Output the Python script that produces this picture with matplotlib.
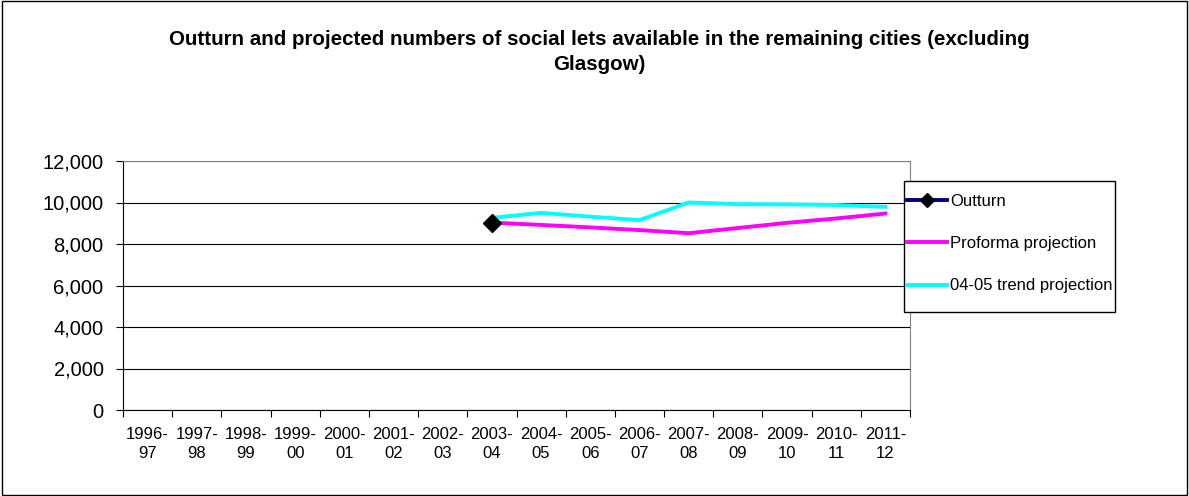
import matplotlib
matplotlib.use('Agg')
import matplotlib.pyplot as plt
from matplotlib.patches import Rectangle
import numpy as np

plt.rcParams['font.family'] = ['Liberation Sans', 'DejaVu Sans']

years = ['1996-\n97', '1997-\n98', '1998-\n99', '1999-\n00', '2000-\n01', '2001-\n02',
         '2002-\n03', '2003-\n04', '2004-\n05', '2005-\n06', '2006-\n07', '2007-\n08',
         '2008-\n09', '2009-\n10', '2010-\n11', '2011-\n12']
nan = np.nan
outturn = [nan, nan, nan, nan, nan, nan, nan, 9030, nan, nan, nan, nan, nan, nan, nan, nan]
proforma = [nan, nan, nan, nan, nan, nan, nan, 9030, 8920, 8800, 8670, 8520, 8770, 9020, 9230, 9470]
trend = [nan, nan, nan, nan, nan, nan, nan, 9260, 9500, 9320, 9150, 10000, 9920, 9910, 9880, 9790]

fig = plt.figure(figsize=(11.89, 4.96), dpi=100)
fig.patches.append(Rectangle((0.0015, 0.002), 0.997, 0.996, transform=fig.transFigure,
                             fill=False, edgecolor='black', linewidth=1))
ax = fig.add_axes([123 / 1189, 1 - 410 / 496, 787 / 1189, 249 / 496])

x = np.arange(len(years))
ax.plot(x, proforma, color='#ff00ff', linewidth=2.8, label='Proforma projection', zorder=3)
ax.plot(x, trend, color='#00ffff', linewidth=2.8, label='04-05 trend projection', zorder=3)
ax.plot(x, outturn, color='#000080', linewidth=2.8, marker='D', markersize=9,
        markerfacecolor='black', markeredgecolor='black', label='Outturn', zorder=4)

ax.set_xlim(-0.5, len(years) - 0.5)
ax.set_ylim(0, 12000)
ax.set_yticks(range(0, 12001, 2000))
ax.set_yticklabels([f'{v:,}' for v in range(0, 12001, 2000)], fontsize=14.5)
ax.yaxis.grid(True, color='black', linewidth=0.8)
ax.set_axisbelow(True)

ax.set_xticks(np.arange(-0.5, len(years), 1))
ax.set_xticklabels([])
ax.set_xticks(x, minor=True)
ax.set_xticklabels(years, minor=True, fontsize=12, linespacing=1.4)
ax.tick_params(axis='x', which='minor', length=0, pad=12)
ax.tick_params(axis='x', which='major', length=5, direction='out', color='black')
ax.tick_params(axis='y', length=5, direction='out', color='black', pad=9)

for s in ['top', 'right']:
    ax.spines[s].set_color('#808080')
ax.spines['left'].set_color('black')
ax.spines['bottom'].set_color('black')

fig.text(0.504, 0.939, 'Outturn and projected numbers of social lets available in the remaining cities (excluding\nGlasgow)',
         ha='center', va='top', fontsize=14.8, fontweight='bold', linespacing=1.35)

# legend box drawn by hand so the text can run up to the border like the original
fig.patches.append(Rectangle((904 / 1189, 1 - 312 / 496), 211 / 1189, 131 / 496,
                             transform=fig.transFigure, facecolor='white',
                             edgecolor='black', linewidth=1, zorder=5))
h, l = ax.get_legend_handles_labels()
order = [2, 0, 1]
leg = fig.legend([h[i] for i in order], [l[i] for i in order],
                 loc='upper left', bbox_to_anchor=(907 / 1189, 1 - 194 / 496),
                 fontsize=12, frameon=False,
                 handlelength=2.4, handletextpad=0.18, labelspacing=1.63,
                 borderpad=0, borderaxespad=0, markerscale=0.75)
leg.set_zorder(6)

fig.savefig('out.png', dpi=100)
